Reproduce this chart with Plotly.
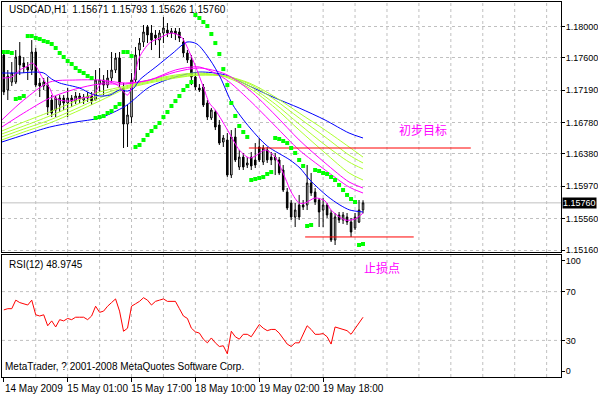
import plotly.graph_objects as go

# ---------------- data ----------------
bars = list(range(91))
opens = [1.17636,1.17192,1.17293,1.17293,1.17623,1.17535,1.17484,1.17446,1.17674,1.17281,
         1.17243,1.17255,1.17065,1.16938,1.17002,1.17090,1.17027,1.17090,1.17052,1.17116,
         1.17065,1.17090,1.17116,1.17065,1.17268,1.17319,1.17255,1.17344,1.17446,1.17598,
         1.17217,1.16760,1.16849,1.17319,1.17699,1.17801,1.17991,1.17915,1.17890,1.17826,
         1.17915,1.17953,1.17915,1.17941,1.17928,1.17801,1.17662,1.17573,1.17357,1.17217,
         1.17230,1.17027,1.16837,1.16913,1.16748,1.16532,1.16558,1.16113,1.16596,1.16215,
         1.16341,1.16240,1.16341,1.16304,1.16469,1.16278,1.16431,1.16341,1.16304,1.16304,
         1.16177,1.15898,1.15758,1.15580,1.15733,1.15733,1.15733,1.16012,1.15898,1.15796,
         1.15669,1.15733,1.15631,1.15288,1.15606,1.15542,1.15580,1.15517,1.15441,1.15517,
         1.15671]
highs = [1.17699,1.17446,1.17547,1.17699,1.17801,1.17611,1.17547,1.17826,1.17725,1.17344,
         1.17344,1.17357,1.17128,1.17116,1.17128,1.17128,1.17217,1.17128,1.17167,1.17154,
         1.17141,1.17167,1.17167,1.17446,1.17471,1.17382,1.17446,1.17674,1.17662,1.17674,
         1.17281,1.17002,1.17408,1.17738,1.17852,1.18017,1.18017,1.18017,1.17953,1.17953,
         1.18118,1.18042,1.17979,1.17979,1.17979,1.17852,1.17699,1.17636,1.17408,1.17268,
         1.17268,1.17065,1.16964,1.16938,1.16811,1.16621,1.16646,1.16684,1.16710,1.16431,
         1.16393,1.16341,1.16405,1.16519,1.16583,1.16494,1.16469,1.16405,1.16393,1.16341,
         1.16240,1.15948,1.15796,1.15758,1.15860,1.15796,1.16240,1.16139,1.15948,1.15822,
         1.15822,1.15758,1.15669,1.15631,1.15644,1.15644,1.15631,1.15568,1.15631,1.15796,
         1.15793]
lows = [1.17128,1.17065,1.17243,1.17268,1.17382,1.17408,1.17319,1.17382,1.17230,1.17103,
        1.17192,1.16875,1.16849,1.16849,1.16913,1.16938,1.16849,1.16976,1.17014,1.17027,
        1.17014,1.17040,1.17002,1.17065,1.17167,1.17128,1.17217,1.17281,1.17408,1.17230,
        1.16456,1.16469,1.16773,1.17255,1.17446,1.17738,1.17788,1.17699,1.17763,1.17598,
        1.17788,1.17864,1.17852,1.17826,1.17801,1.17611,1.17535,1.17255,1.17192,1.17167,
        1.16976,1.16811,1.16811,1.16684,1.16494,1.16469,1.16088,1.16075,1.16278,1.16177,
        1.16177,1.16202,1.16177,1.16202,1.16278,1.16240,1.16266,1.16240,1.16113,1.16113,
        1.15898,1.15669,1.15542,1.15453,1.15542,1.15669,1.15669,1.15847,1.15733,1.15453,
        1.15453,1.15568,1.15263,1.15225,1.15504,1.15492,1.15479,1.15327,1.15415,1.15504,
        1.15626]
closes = [1.17167,1.17370,1.17408,1.17611,1.17509,1.17484,1.17446,1.17674,1.17255,1.17243,
          1.17293,1.16976,1.16900,1.17090,1.17090,1.17027,1.17090,1.17052,1.17116,1.17078,
          1.17103,1.17116,1.17052,1.17319,1.17319,1.17255,1.17344,1.17446,1.17598,1.17281,
          1.16760,1.16875,1.17319,1.17636,1.17788,1.17928,1.17890,1.17826,1.17852,1.17915,
          1.17979,1.17915,1.17941,1.17903,1.17852,1.17662,1.17573,1.17357,1.17230,1.17192,
          1.17002,1.16849,1.16938,1.16722,1.16519,1.16583,1.16113,1.16596,1.16304,1.16341,
          1.16215,1.16266,1.16228,1.16240,1.16304,1.16456,1.16304,1.16304,1.16341,1.16139,
          1.15923,1.15695,1.15580,1.15669,1.15580,1.15707,1.16012,1.15885,1.15771,1.15644,
          1.15733,1.15606,1.15288,1.15580,1.15542,1.15606,1.15517,1.15390,1.15580,1.15669,
          1.15760]

sar = [1.17674,1.17674,1.17662,1.17078,1.17090,1.17116,1.17877,1.17877,1.17852,1.17839,
       1.17814,1.17801,1.17776,1.17725,1.17662,1.17611,1.17560,1.17522,1.17471,1.17433,
       1.17408,1.17370,1.17344,1.16837,1.16849,1.16862,1.16900,1.16925,1.16976,1.17014,
       1.17674,1.17674,1.17623,1.16469,1.16494,1.16558,1.16621,1.16672,1.16722,1.16773,
       1.16849,1.16913,1.16989,1.17052,1.17116,1.17192,1.17243,1.17293,1.18144,1.18106,
       1.18055,1.18004,1.17903,1.17788,1.17649,1.17458,1.17255,1.17027,1.16862,1.16735,
       1.16659,1.16596,1.16050,1.16063,1.16075,1.16088,1.16126,1.16151,1.16583,1.16570,
       1.16545,1.16519,1.16456,1.16393,1.16304,1.16228,1.15466,1.15479,1.16177,1.16164,
       1.16139,1.16126,1.16088,1.16050,1.15987,1.15923,1.15860,1.15809,1.15771,1.15225,
       1.15238]

rsi = [55,56,56,63,61,60,59,63,51,50,
       51,42,46,41,47,46,48,47,49,49,
       49,47,50,58,53,54,58,61,64,54,
       37.5,40,58,60,62,65,63,59,62,63,
       64,62,62,62,56,50,48,40,37,36,
       31,28,32,28,25,25.6,19,37.5,33,31,
       35,35,33,38,43,40,38,39,39,36,
       31,27,25,28,28,35,42,39,35,35,
       35.6,33,27,41,40,39.5,38,35,40,44,
       48.97]

# fast moving averages
ma_fast_bars = [-0.5,2,4,6,7,8,9,10,11.5,12.5,14,16.5,19,21.5,23,24,25,26.5,28,29,30,31,32,33,34,
                36.5,39,42,44.5,46.5,48,50,51.5,53,56.5,59,61.5,63,65.5,68,70.5,72,74,75.5,78,
                80.5,82,85.5,88,90]
ma_fast = [1.17344,1.17357,1.17446,1.17497,1.17535,1.17497,1.17408,1.17319,1.17217,1.17103,
           1.17065,1.17052,1.17090,1.17103,1.17167,1.17255,1.17293,1.17293,1.17268,1.17230,
           1.17167,1.17128,1.17217,1.17420,1.17611,1.17788,1.17852,1.17915,1.17864,1.17674,
           1.17497,1.17230,1.17027,1.16938,1.16646,1.16431,1.16329,1.16354,1.16431,1.16341,
           1.16075,1.15898,1.15758,1.15758,1.15822,1.15783,1.15669,1.15542,1.15555,1.15631]
ma_mid_bars = [-0.5,4,8,10,12,14,19,22,24,26.6,29,31,32.6,34,38.4,42.4,45.9,48.4,51.7,54.2,
               57.4,61.7,66,71.7,74.2,76.7,81,84.2,86.7,90]
ma_mid = [1.17408,1.17408,1.17420,1.17408,1.17331,1.17281,1.17217,1.17141,1.17116,1.17128,
          1.17192,1.17179,1.17217,1.17319,1.17497,1.17662,1.17801,1.17776,1.17573,1.17357,
          1.17002,1.16710,1.16481,1.16304,1.16202,1.16050,1.15847,1.15733,1.15669,1.15644]

# slow fan of moving averages
fan_bars = [-0.5,5,11.5,18,24,30.5,36.5,43,49,55.5,61.5,68,74,80.5,86.5,90]
fan_magenta_1 = [1.16811,1.17065,1.17293,1.17319,1.17319,1.17281,1.17319,1.17446,1.17484,1.17331,
                 1.17065,1.16735,1.16431,1.16177,1.15961,1.15885]
fan_magenta_2 = [1.16722,1.16900,1.17090,1.17205,1.17268,1.17268,1.17319,1.17420,1.17471,1.17395,
                 1.17192,1.16875,1.16558,1.16266,1.16025,1.15948]
fan_green_1 = [1.16672,1.16786,1.16913,1.17052,1.17167,1.17243,1.17319,1.17382,1.17408,1.17357,
               1.17217,1.16964,1.16684,1.16393,1.16139,1.16050]
fan_green_2 = [1.16634,1.16735,1.16862,1.17002,1.17128,1.17230,1.17306,1.17370,1.17395,1.17370,
               1.17243,1.17014,1.16760,1.16494,1.16278,1.16190]
fan_green_3 = [1.16596,1.16697,1.16811,1.16951,1.17090,1.17217,1.17293,1.17357,1.17382,1.17370,
               1.17268,1.17065,1.16837,1.16596,1.16367,1.16266]
fan_green_4 = [1.16558,1.16659,1.16773,1.16913,1.17052,1.17205,1.17281,1.17344,1.17382,1.17370,
               1.17281,1.17103,1.16900,1.16684,1.16469,1.16341]
fan_blue = [1.16532,1.16621,1.16722,1.16786,1.16837,1.16989,1.17230,1.17357,1.17420,1.17382,
            1.17243,1.17090,1.16964,1.16811,1.16646,1.16583]

# drawn objects
target_level = 1.16456
target_bars = [61.4, 117.0]
stop_level = 1.15327
stop_bars = [75.5, 102.7]
bid_price = 1.15760

price_ticks = [1.18000, 1.17600, 1.17190, 1.16780, 1.16380, 1.15970, 1.15560, 1.15160]
rsi_levels = [30, 70]
rsi_scale_labels = ["0", "30", "70", "100"]
time_label_bars = [0, 16, 32, 48, 64, 80]
time_labels = ["14 May 2009", "15 May 01:00", "15 May 17:00", "18 May 10:00",
               "19 May 02:00", "19 May 18:00"]

# ---------------- figure ----------------
FONT = "Liberation Sans"
GRID = "#C0C0C0"
MAG = "#FF00FF"
YG = "#ADFF2F"
BLUE = "#0000FF"
XR = [-0.45, 139.6]

fig = go.Figure()

fig.add_trace(go.Candlestick(
    x=bars, open=opens, high=highs, low=lows, close=closes,
    increasing=dict(line=dict(color="black", width=1), fillcolor="white"),
    decreasing=dict(line=dict(color="black", width=1), fillcolor="black"),
    whiskerwidth=0, xaxis="x", yaxis="y", hoverinfo="skip", showlegend=False))

def line(xs, ys, color, shape="spline"):
    fig.add_trace(go.Scatter(x=xs, y=ys, mode="lines", xaxis="x", yaxis="y",
                             line=dict(color=color, width=1, shape=shape, smoothing=0.8),
                             hoverinfo="skip", showlegend=False))

line(fan_bars, fan_blue, BLUE)
line(fan_bars, fan_green_4, YG)
line(fan_bars, fan_green_3, YG)
line(fan_bars, fan_green_2, YG)
line(fan_bars, fan_green_1, YG)
line(fan_bars, fan_magenta_2, MAG)
line(fan_bars, fan_magenta_1, MAG)
line(ma_mid_bars, ma_mid, BLUE)
line(ma_fast_bars, ma_fast, MAG)

line(target_bars, [target_level] * 2, "#FF0000", "linear")
line(stop_bars, [stop_level] * 2, "#FF0000", "linear")

fig.add_trace(go.Scatter(x=bars, y=sar, mode="markers", xaxis="x", yaxis="y",
                         marker=dict(symbol="square", size=4, color="#00FF00", line=dict(width=0)),
                         hoverinfo="skip", showlegend=False))

fig.add_trace(go.Scatter(x=bars, y=rsi, mode="lines", xaxis="x2", yaxis="y2",
                         line=dict(color="#FF0000", width=1),
                         hoverinfo="skip", showlegend=False))

shapes = []
for k in range(1, 18):
    for yr in ("y domain", "y2 domain"):
        shapes.append(dict(type="line", xref="x", yref=yr, x0=8 * k, x1=8 * k, y0=0, y1=1,
                           line=dict(color=GRID, width=1, dash="3px,3px"), layer="below"))
for lv in rsi_levels:
    shapes.append(dict(type="line", xref="x domain", yref="y2", x0=0, x1=1, y0=lv, y1=lv,
                       line=dict(color=GRID, width=1, dash="3px,3px"), layer="below"))
shapes.append(dict(type="line", xref="x domain", yref="y", x0=0, x1=1, y0=bid_price, y1=bid_price,
                   line=dict(color=GRID, width=1), layer="below"))

annotations = [
    dict(xref="paper", yref="paper", x=0.009, y=0.981, xanchor="left", yanchor="middle",
         text="USDCAD,H1\u00a0\u00a01.15671 1.15793 1.15626 1.15760", showarrow=False,
         font=dict(family=FONT, size=10, color="black")),
    dict(xref="paper", yref="paper", x=0.009, y=0.299, xanchor="left", yanchor="middle",
         text="RSI(12) 48.9745", showarrow=False, font=dict(family=FONT, size=10, color="black")),
    dict(xref="paper", yref="paper", x=0.002, y=0.027, xanchor="left", yanchor="middle",
         text="MetaTrader, ? 2001-2008 MetaQuotes Software Corp.", showarrow=False,
         font=dict(family=FONT, size=10, color="black")),
    dict(xref="x", yref="y", x=105, y=1.16697, text="初步目标", showarrow=False,
         font=dict(family="Noto Sans CJK SC", size=12, color=MAG)),
    dict(xref="x2", yref="y2", x=94.7, y=90, text="止损点", showarrow=False,
         font=dict(family="Noto Sans CJK SC", size=12, color=MAG)),
    dict(xref="paper", yref="y", x=1, y=bid_price, xanchor="left", yanchor="middle",
         xshift=1, text="1.15760", showarrow=False, bgcolor="black", borderpad=0,
         font=dict(family=FONT, size=9, color="white")),
]

axis_common = dict(showline=True, mirror=True, linecolor="black", linewidth=1, zeroline=False,
                   automargin=False)

fig.update_layout(
    width=598, height=395,
    margin=dict(l=2, r=37, t=2, b=18, autoexpand=False),
    paper_bgcolor="white", plot_bgcolor="white",
    showlegend=False, hovermode=False,
    boxgap=0.45,
    shapes=shapes, annotations=annotations,
    xaxis=dict(domain=[0, 1], range=XR, anchor="y", showticklabels=False, showgrid=False,
               ticks="", rangeslider=dict(visible=False), **axis_common),
    xaxis2=dict(domain=[0, 1], range=XR, anchor="y2", matches="x", showgrid=False,
                tickmode="array", tickvals=time_label_bars, ticktext=time_labels,
                tickangle=0, ticks="outside", ticklen=4, tickcolor="black", ticklabelshift=30,
                ticklabelstandoff=-2,
                tickfont=dict(family=FONT, size=10, color="black"), **axis_common),
    yaxis=dict(domain=[0.3333, 1], range=[1.15136, 1.18309], anchor="x", side="right",
               tickmode="array", tickvals=price_ticks,
               ticktext=["%.5f" % v for v in price_ticks],
               ticks="outside", ticklen=3, tickcolor="black", ticklabelstandoff=-1,
               showgrid=True, gridcolor=GRID, griddash="3px,3px", gridwidth=1,
               tickfont=dict(family=FONT, size=9, color="black"), **axis_common),
    yaxis2=dict(domain=[0, 0.3253], range=[0, 100], anchor="x2", side="right",
                tickmode="array", tickvals=[4.9, 30, 70, 95.1], ticktext=rsi_scale_labels,
                ticks="outside", ticklen=3, tickcolor="black", ticklabelstandoff=-1,
                showgrid=False,
                tickfont=dict(family=FONT, size=9, color="black"), **axis_common),
)

fig.write_html("out.html", config={"displayModeBar": False})
